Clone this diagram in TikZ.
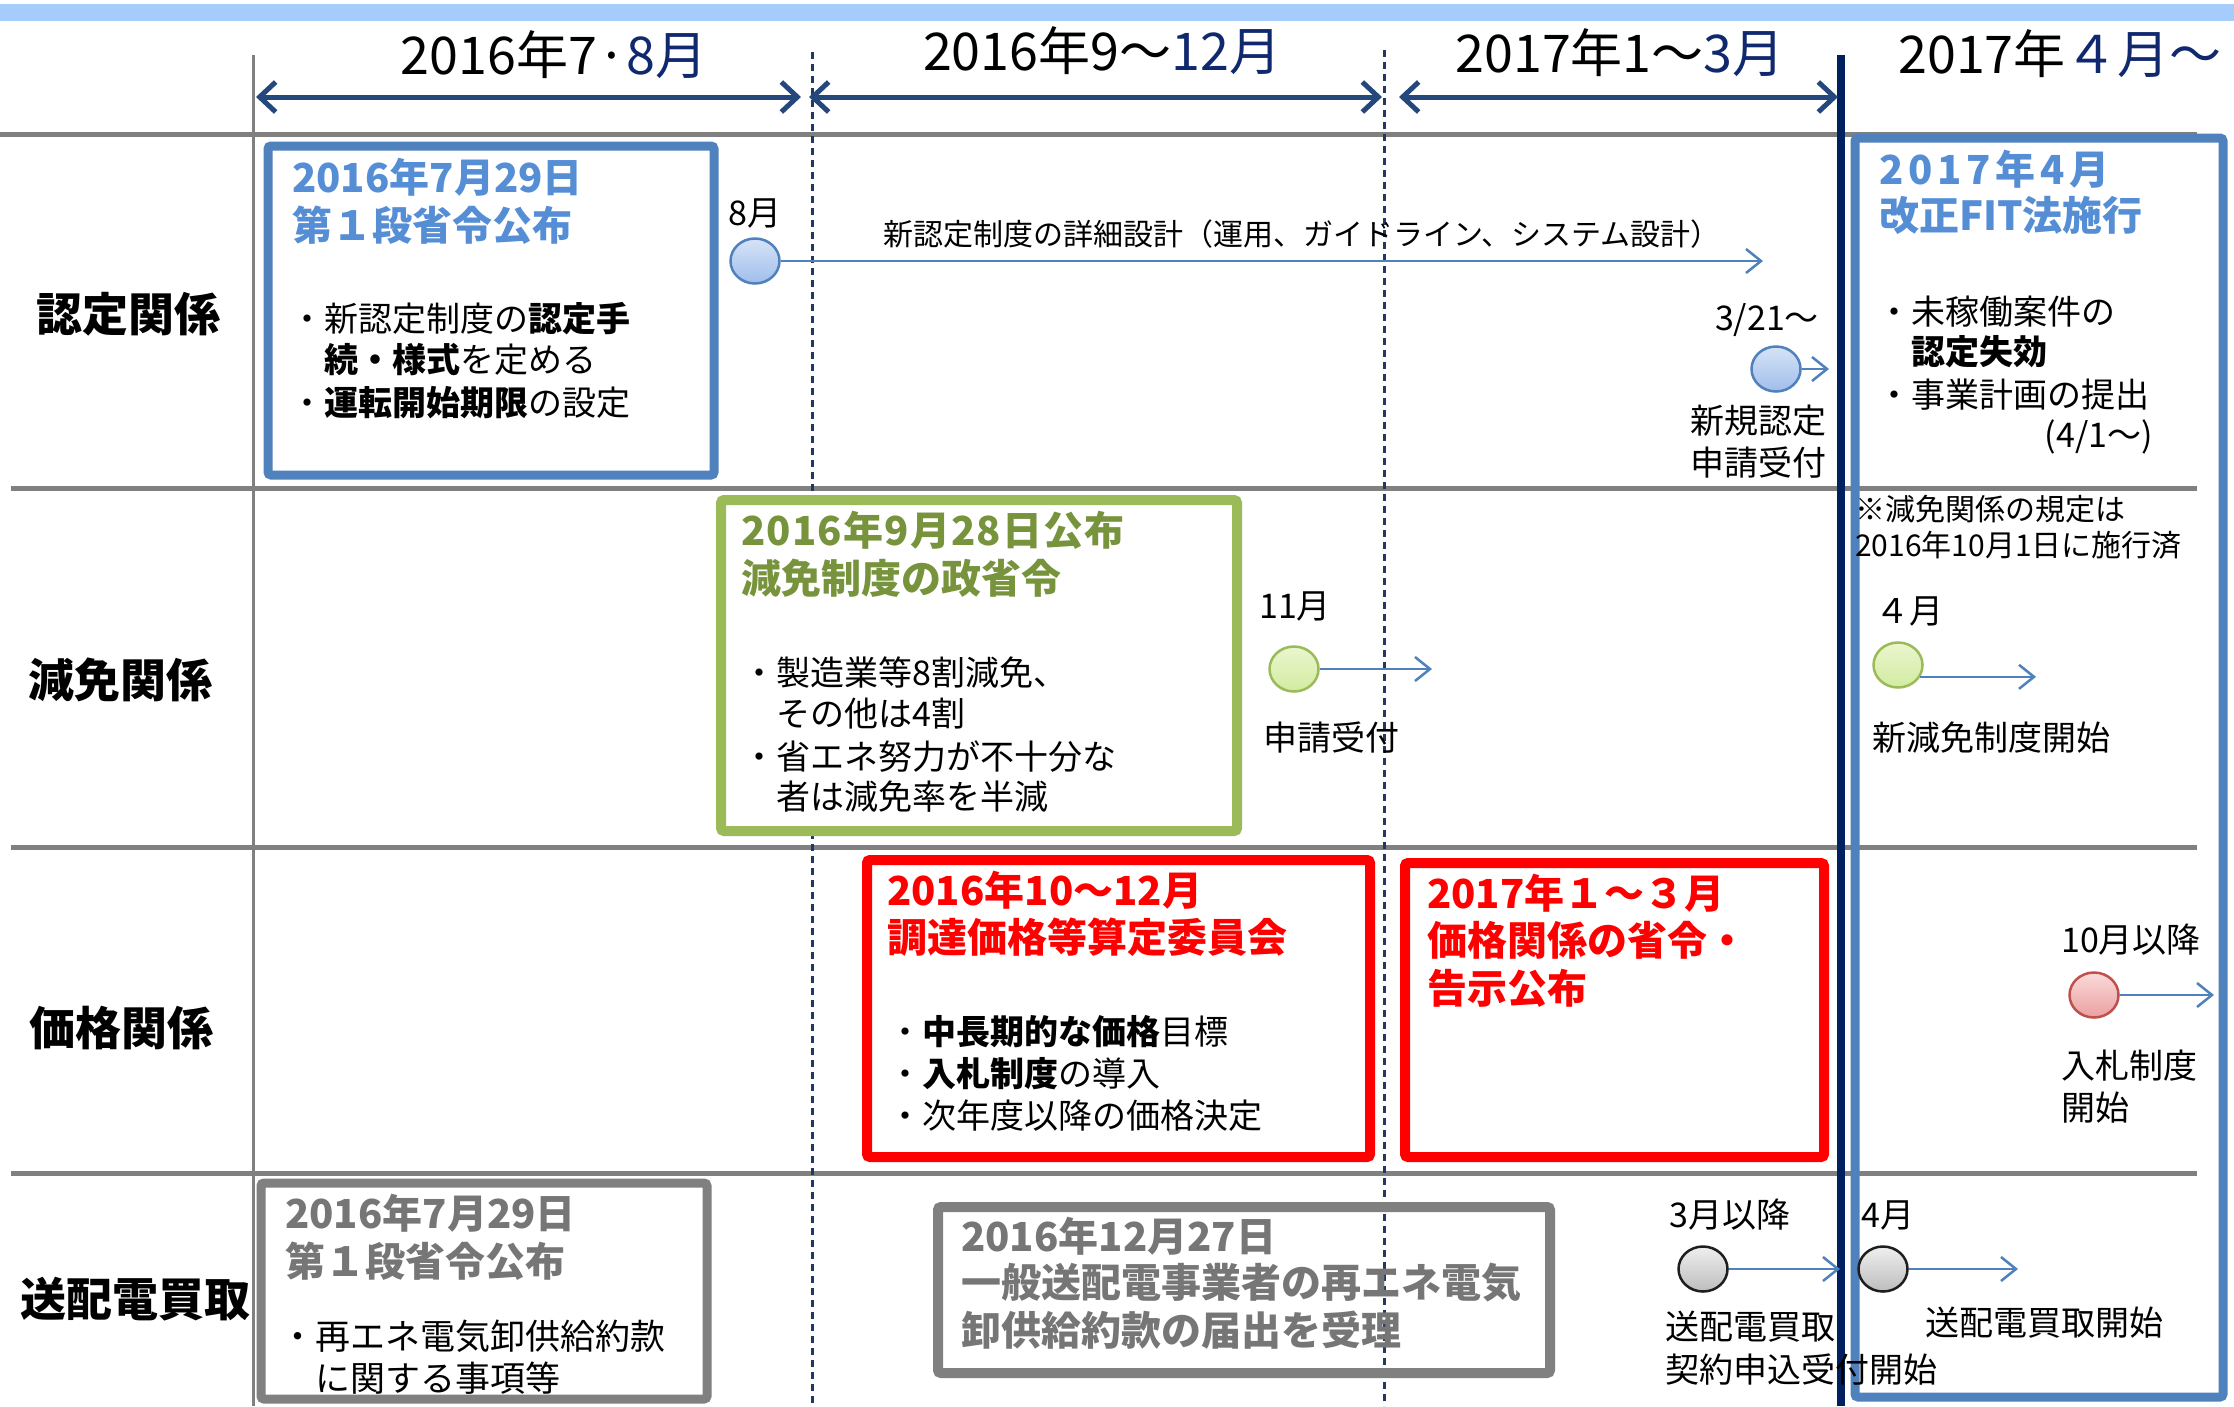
\documentclass[tikz,border=0pt]{standalone}
\usepackage{fontspec}
\setmainfont{Noto Sans CJK JP}
\usetikzlibrary{arrows.meta,shapes.geometric}
\definecolor{barblue}{RGB}{166,204,252}
\definecolor{gridgray}{RGB}{128,128,128}
\definecolor{navyline}{RGB}{0,32,96}
\definecolor{dotnavy}{RGB}{31,56,100}
\definecolor{hdrarrow}{RGB}{36,72,124}
\definecolor{monthnavy}{RGB}{16,40,110}
\definecolor{boxblue}{RGB}{79,129,189}
\definecolor{ttlblue}{RGB}{85,142,213}
\definecolor{boxgreen}{RGB}{155,187,89}
\definecolor{ttlgreen}{RGB}{119,147,60}
\definecolor{boxred}{RGB}{255,0,0}
\definecolor{boxgray}{RGB}{128,128,128}
\definecolor{ttlgray}{RGB}{118,118,118}
\definecolor{circred}{RGB}{192,80,77}
\definecolor{circgrayline}{RGB}{30,30,30}
\begin{document}
\begin{tikzpicture}[x=1pt,y=-1pt,
  gridline/.style={gridgray,line width=5pt},
  dotline/.style={dotnavy,line width=3pt,dash pattern=on 7pt off 5pt},
  hdrarr/.style={hdrarrow,line width=5pt,{Straight Barb[length=16pt,width=30pt]}-{Straight Barb[length=16pt,width=30pt]}},
  evarr/.style={boxblue,line width=2.5pt,-{Straight Barb[length=15pt,width=24pt]}},
  frame/.style={line width=#1,rounded corners=3pt},
  hdr/.style={font=\fontsize{52}{60}\selectfont,anchor=base,inner sep=0pt},
  rowlab/.style={font=\bfseries\fontsize{46}{52}\selectfont,anchor=base,inner sep=0pt},
  ttl/.style={font=\bfseries\fontsize{40}{48}\selectfont,anchor=base west,inner sep=0pt},
  body/.style={font=\fontsize{34}{42}\selectfont,anchor=base west,inner sep=0pt},
  note/.style={font=\fontsize{30}{36}\selectfont,anchor=base west,inner sep=0pt},
  evt/.style={ellipse,minimum width=49pt,minimum height=45pt,inner sep=0pt,line width=2.5pt},
  evblue/.style={evt,draw=boxblue,top color={rgb,255:red,214;green,227;blue,247},bottom color={rgb,255:red,160;green,190;blue,235}},
  evgreen/.style={evt,draw=boxgreen,top color={rgb,255:red,234;green,246;blue,207},bottom color={rgb,255:red,210;green,235;blue,160}},
  evred/.style={evt,draw=circred,top color={rgb,255:red,250;green,218;blue,218},bottom color={rgb,255:red,235;green,160;blue,160}},
  evgray/.style={evt,draw=circgrayline,top color={rgb,255:red,239;green,239;blue,239},bottom color={rgb,255:red,189;green,189;blue,189}}
]
\useasboundingbox (0,0) rectangle (2234,1406);
\fill[white] (0,0) rectangle (2234,1406);
\fill[barblue] (0,4) rectangle (2234,21);

% grid lines
\draw[gridline] (0,134) -- (2197,134);
\draw[gridline] (11,488) -- (2197,488);
\draw[gridline] (11,847) -- (2197,847);
\draw[gridline] (11,1173) -- (2197,1173);
\draw[gridgray,line width=3pt] (253,55) -- (253,1406);

% period separators
\draw[dotline] (812,52) -- (812,1406);
\draw[dotline] (1384,50) -- (1384,1406);
\draw[navyline,line width=8pt] (1841,55) -- (1841,1406);

% header
\node[hdr] (h1) at (554,74) {2016年7·{\color{monthnavy}8月}};
\node[hdr] (h2) at (1102,70) {2016年9～{\color{monthnavy}12月}};
\node[hdr] (h3) at (1620,72) {2017年1～{\color{monthnavy}3月}};
\node[hdr] (h4) at (2060,73) {2017年{\color{monthnavy}４月～}};
\coordinate (ha1l) at (256,97); \coordinate (ha1r) at (801,97);
\coordinate (ha2l) at (809,97); \coordinate (ha2r) at (1382,97);
\coordinate (ha3l) at (1399,97); \coordinate (ha3r) at (1838,97);
\draw[hdrarr] (ha1l) -- (ha1r);
\draw[hdrarr] (ha2l) -- (ha2r);
\draw[hdrarr] (ha3l) -- (ha3r);

% row labels
\node[rowlab] (r1) at (128,331) {認定関係};
\node[rowlab] (r2) at (120,697) {減免関係};
\node[rowlab] (r3) at (121,1045) {価格関係};
\node[rowlab] (r4) at (135,1316) {送配電買取};

% boxes
\draw[frame=9pt,boxblue] (268,146) rectangle (714,475);
\draw[frame=9pt,boxblue] (1855,138) rectangle (2223,1397);
\draw[frame=10pt,boxgreen,fill=white] (721,500) rectangle (1237,831);
\draw[frame=10pt,boxred] (867,860) rectangle (1370,1157);
\draw[frame=10pt,boxred] (1405,863) rectangle (1824,1157);
\draw[frame=9pt,boxgray] (261,1183) rectangle (707,1399);
\draw[frame=10pt,boxgray] (938,1207) rectangle (1550,1373);

% box A
\node[ttl,text=ttlblue] (a1) at (292,192) {2016年7月29日};
\node[ttl,text=ttlblue] (a2) at (292,240) {第１段省令公布};
\node[body] (a3) at (290,331) {・新認定制度の\textbf{認定手}};
\node[body] (a4) at (290,372) {　\textbf{続・様式}を定める};
\node[body] (a5) at (290,415) {・\textbf{運転開始期限}の設定};

% event 8月
\node[body,anchor=base] (e1lab) at (755,225) {8月};
\node[evblue] (e1) at (755,261) {};
\coordinate (e1end) at (1763,261);
\draw[evarr] (e1.east) -- (e1end);
\node[font=\fontsize{30}{36}\selectfont,anchor=base west,inner sep=0pt] (e1t) at (883,245) {新認定制度の詳細設計（運用、ガイドライン、システム設計）};

% event 3/21
\node[body,anchor=base] (e2lab) at (1767,330) {3/21～};
\node[evblue] (e2) at (1776,369) {};
\coordinate (e2end) at (1829,369);
\draw[evarr] (e2.east) -- (e2end);
\node[body] (e2t1) at (1690,433) {新規認定};
\node[body] (e2t2) at (1690,475) {申請受付};

% box B
\node[ttl,text=ttlblue,font=\bfseries\fontsize{40}{48}\selectfont\addfontfeature{LetterSpace=12}] (b1) at (1879,184) {2017年4月};
\node[ttl,text=ttlblue] (b2) at (1879,230) {改正FIT法施行};
\node[body] (b3) at (1877,324) {・未稼働案件の};
\node[body] (b4) at (1877,364) {　\textbf{認定失効}};
\node[body] (b5) at (1877,407) {・事業計画の提出};
\node[body,anchor=base east] (b6) at (2153,447) {(4/1～)};

% note
\node[note] (n1) at (1855,520) {※減免関係の規定は};
\node[note] (n2) at (1855,556) {2016年10月1日に施行済};

% box C
\node[ttl,text=ttlgreen,font=\bfseries\fontsize{40}{48}\selectfont\addfontfeature{LetterSpace=3}] (c1) at (741,545) {2016年9月28日公布};
\node[ttl,text=ttlgreen] (c2) at (741,593) {減免制度の政省令};
\node[body] (c3) at (742,685) {・製造業等8割減免、};
\node[body] (c4) at (742,726) {　その他は4割};
\node[body] (c5) at (742,769) {・省エネ努力が不十分な};
\node[body] (c6) at (742,809) {　者は減免率を半減};

% event 11月
\node[body,anchor=base] (e3lab) at (1295,618) {11月};
\node[evgreen] (e3) at (1294,669) {};
\coordinate (e3end) at (1432,669);
\draw[evarr] (e3.east) -- (e3end);
\node[body] (e3t) at (1263,750) {申請受付};

% event 4月 (減免)
\node[body,anchor=base] (e4lab) at (1909,623) {４月};
\node[evgreen] (e4) at (1898,665) {};
\coordinate (e4end) at (2036,676);
\draw[evarr] (e4.-28) -- (e4.-28 -| e4end);
\node[body] (e4t) at (1872,750) {新減免制度開始};

% box D
\node[ttl,text=boxred] (d1) at (887,905) {2016年10～12月};
\node[ttl,text=boxred] (d2) at (887,952) {調達価格等算定委員会};
\node[body] (d3) at (888,1044) {・\textbf{中長期的な価格}目標};
\node[body] (d4) at (888,1086) {・\textbf{入札制度}の導入};
\node[body] (d5) at (888,1128) {・次年度以降の価格決定};

% box E
\node[ttl,text=boxred] (e5a) at (1427,908) {2017年１～３月};
\node[ttl,text=boxred] (e5b) at (1427,955) {価格関係の省令・};
\node[ttl,text=boxred] (e5c) at (1427,1003) {告示公布};

% event 10月以降
\node[body] (e6lab) at (2061,952) {10月以降};
\node[evred] (e6) at (2094,995) {};
\coordinate (e6end) at (2214,995);
\draw[evarr] (e6.east) -- (e6end);
\node[body] (e6t1) at (2061,1078) {入札制度};
\node[body] (e6t2) at (2061,1120) {開始};

% box F
\node[ttl,text=ttlgray] (f1) at (285,1228) {2016年7月29日};
\node[ttl,text=ttlgray] (f2) at (285,1276) {第１段省令公布};
\node[body,font=\fontsize{35}{43}\selectfont] (f3) at (280,1349) {・再エネ電気卸供給約款};
\node[body,font=\fontsize{35}{43}\selectfont] (f4) at (280,1391) {　に関する事項等};

% box G
\node[ttl,text=ttlgray] (g1) at (961,1251) {2016年12月27日};
\node[ttl,text=ttlgray] (g2) at (961,1297) {一般送配電事業者の再エネ電気};
\node[ttl,text=ttlgray] (g3) at (961,1345) {卸供給約款の届出を受理};

% event 3月以降
\node[body] (e7lab) at (1669,1227) {3月以降};
\node[evgray] (e7) at (1703,1269) {};
\coordinate (e7end) at (1840,1269);
\draw[evarr] (e7.east) -- (e7end);
\node[body] (e7t1) at (1665,1339) {送配電買取};
\node[body] (e7t2) at (1665,1382) {契約申込受付開始};

% event 4月 (送配電)
\node[body] (e8lab) at (1861,1227) {4月};
\node[evgray] (e8) at (1883,1269) {};
\coordinate (e8end) at (2018,1269);
\draw[evarr] (e8.east) -- (e8end);
\node[body] (e8t) at (1925,1335) {送配電買取開始};
\end{tikzpicture}
\end{document}
